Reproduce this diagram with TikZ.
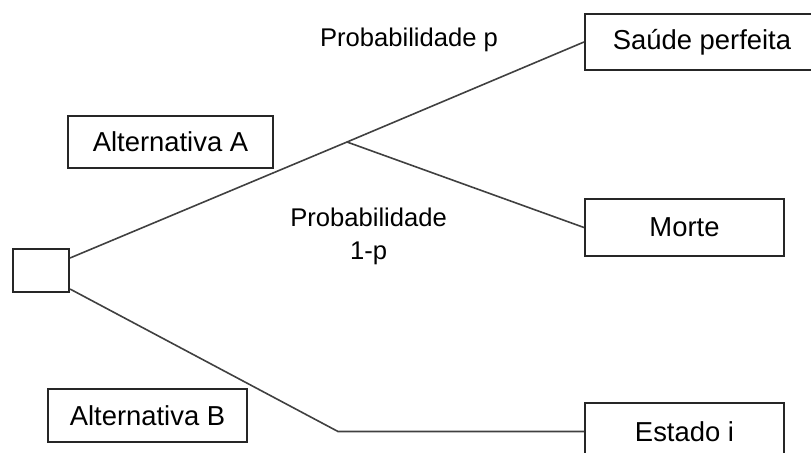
\documentclass[tikz,border=0pt]{standalone}
\usepackage{fontspec}
\setmainfont{Liberation Sans}
\begin{document}
\begin{tikzpicture}[x=0.5pt,y=-0.5pt,
  box/.style={draw=black!85, line width=1pt, inner sep=0pt, font=\fontsize{13.7}{16}\selectfont},
  branch/.style={draw=black!75, line width=0.8pt},
  prob/.style={font=\fontsize{12.8}{16.5}\selectfont, align=center, inner sep=0pt}]
\useasboundingbox (0,0) rectangle (811,452);
\clip (0,0) rectangle (811,452);
\node[box, minimum width=28pt, minimum height=21.5pt] (dec) at (41,270.5) {};
\node[box, minimum width=102.5pt, minimum height=26pt] (altA) at (170.5,142) {Alternativa A};
\node[box, minimum width=99.5pt, minimum height=26.5pt] (altB) at (147.5,415.5) {Alternativa B};
\node[box, minimum width=117pt, minimum height=28pt] (saude) at (702,42) {Saúde perfeita};
\node[box, minimum width=99.5pt, minimum height=28.5pt] (morte) at (684.5,227.5) {Morte};
\node[box, minimum width=99.5pt, minimum height=28.5pt] (estado) at (684.5,431.5) {Estado i};
\node[prob] (pp) at (409,40) {Probabilidade p};
\node[prob] (pq) at (368.6,236.5) {Probabilidade\\1-p};
\coordinate (br) at (347,142);
\coordinate (bend) at (338,431.5);
\draw[branch] ([yshift=6.25pt]dec.east) -- (br) -- (saude.west);
\draw[branch] (br) -- (morte.west);
\draw[branch] ([yshift=-9.25pt]dec.east) -- (bend) -- (estado.west);
\end{tikzpicture}
\end{document}
